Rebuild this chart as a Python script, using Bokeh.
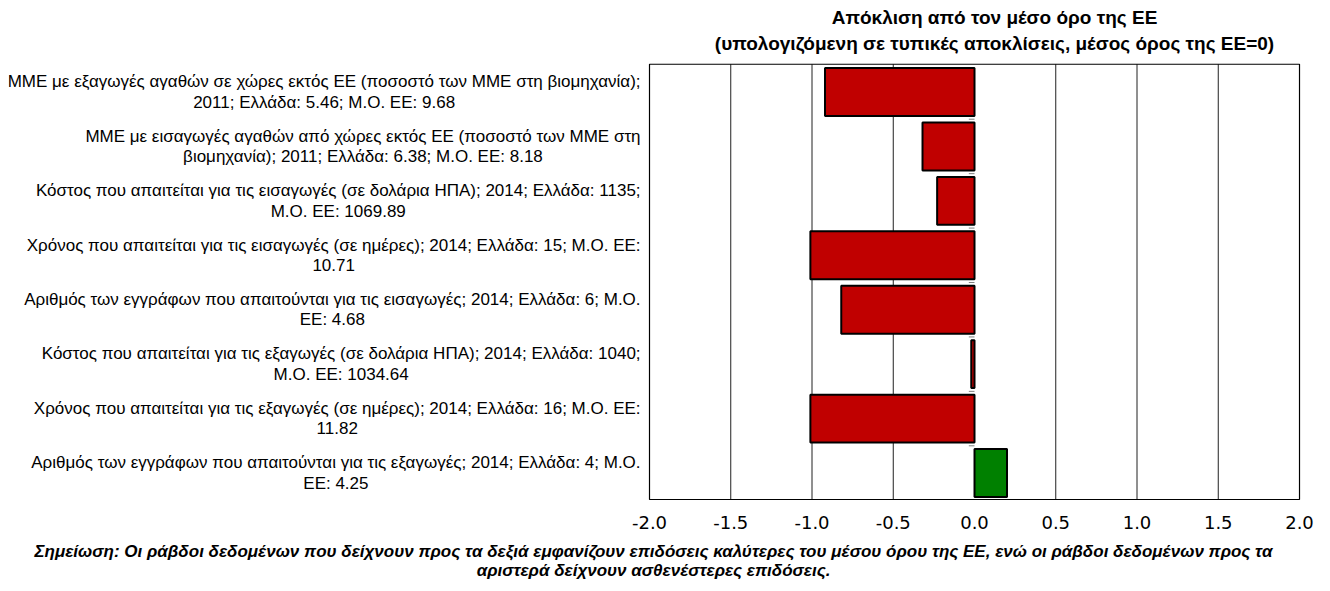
from bokeh.plotting import figure
from bokeh.layouts import column
from bokeh.models import Range1d, FixedTicker, PrintfTickFormatter
from bokeh.core.properties import value
from bokeh.embed import file_html
from bokeh.resources import INLINE

# ---------------- data ----------------
categories = [
    "ΜΜΕ με εξαγωγές αγαθών σε χώρες εκτός ΕΕ (ποσοστό των ΜΜΕ στη βιομηχανία);\n2011; Ελλάδα: 5.46; Μ.Ο. ΕΕ: 9.68",
    "ΜΜΕ με εισαγωγές αγαθών από χώρες εκτός ΕΕ (ποσοστό των ΜΜΕ στη\nβιομηχανία); 2011; Ελλάδα: 6.38; Μ.Ο. ΕΕ: 8.18",
    "Κόστος που απαιτείται για τις εισαγωγές (σε δολάρια ΗΠΑ); 2014; Ελλάδα: 1135;\nΜ.Ο. ΕΕ: 1069.89",
    "Χρόνος που απαιτείται για τις εισαγωγές (σε ημέρες); 2014; Ελλάδα: 15; Μ.Ο. ΕΕ:\n10.71",
    "Αριθμός των εγγράφων που απαιτούνται για τις εισαγωγές; 2014; Ελλάδα: 6; Μ.Ο.\nΕΕ: 4.68",
    "Κόστος που απαιτείται για τις εξαγωγές (σε δολάρια ΗΠΑ); 2014; Ελλάδα: 1040;\nΜ.Ο. ΕΕ: 1034.64",
    "Χρόνος που απαιτείται για τις εξαγωγές (σε ημέρες); 2014; Ελλάδα: 16; Μ.Ο. ΕΕ:\n11.82",
    "Αριθμός των εγγράφων που απαιτούνται για τις εξαγωγές; 2014; Ελλάδα: 4; Μ.Ο.\nΕΕ: 4.25",
]
deviation = [-0.92, -0.32, -0.23, -1.01, -0.82, -0.02, -1.01, 0.20]
x_ticks = [-2.0, -1.5, -1.0, -0.5, 0.0, 0.5, 1.0, 1.5, 2.0]
grid_ticks = [-1.5, -1.0, -0.5, 0.5, 1.0, 1.5]
title_lines = ["Απόκλιση από τον μέσο όρο της ΕΕ",
               "(υπολογιζόμενη σε τυπικές αποκλίσεις, μέσος όρος της ΕΕ=0)"]
note_lines = ["Σημείωση: Οι ράβδοι δεδομένων που δείχνουν προς τα δεξιά εμφανίζουν επιδόσεις καλύτερες του μέσου όρου της ΕΕ, ενώ οι ράβδοι δεδομένων προς τα",
              "αριστερά δείχνουν ασθενέστερες επιδόσεις."]

# ---------------- layout constants ----------------
FONT = value("Liberation Sans")
ypos = list(range(len(categories)))
colors = ["#C00000" if v < 0 else "#008000" for v in deviation]
BOX_TOP, BOX_BOTTOM = -0.51, 7.487
TOTAL_W = 1322

p = figure(frame_width=1298, frame_height=492,
           min_border_left=8, min_border_right=16, min_border_top=8, min_border_bottom=38,
           x_range=Range1d(-5.9446, 2.043), y_range=Range1d(7.505, -1.534),
           output_backend="svg", toolbar_location=None)
p.outline_line_color = None
p.xgrid.visible = False
p.ygrid.visible = False
p.yaxis.visible = False
p.background_fill_color = "white"
p.border_fill_color = "white"

# x axis (tick labels only)
ax = p.xaxis[0]
ax.ticker = FixedTicker(ticks=x_ticks)
ax.formatter = PrintfTickFormatter(format="%.1f")
ax.axis_line_color = None
ax.major_tick_line_color = None
ax.minor_tick_line_color = None
ax.major_tick_out = 0
ax.major_tick_in = 0
ax.major_label_standoff = 15
ax.major_label_text_font = "DejaVu Sans"
ax.major_label_text_font_size = "18px"
ax.major_label_text_color = "black"

# grid lines inside the box
p.segment(x0=grid_ticks, x1=grid_ticks, y0=[BOX_TOP] * len(grid_ticks), y1=[BOX_BOTTOM] * len(grid_ticks),
          line_color="#202020", line_width=1)

# small category ticks at zero
bounds = [i + 0.5 for i in ypos[:-1]]
p.segment(x0=[-0.035] * len(bounds), x1=[0] * len(bounds), y0=bounds, y1=bounds,
          line_color="#808080", line_width=1)

# bars
p.hbar(y=ypos, left=0, right=deviation, height=0.88, fill_color=colors,
       line_color="black", line_width=2)

# plot box
p.quad(left=[-2], right=[2], top=[BOX_TOP], bottom=[BOX_BOTTOM], fill_color=None,
       line_color="black", line_width=1.2)

# category labels
p.text(x=[-2.055] * len(categories), y=ypos, text=categories, anchor="center_right",
       text_align="center", text_baseline="middle", text_font=FONT,
       text_font_size="17px", text_line_height=1.08, text_color="black")

# chart title
p.text(x=[0.123], y=[-1.13], text=["\n".join(title_lines)], anchor="center",
       text_align="center", text_baseline="middle", text_font=FONT,
       text_font_size="19px", text_font_style="bold", text_line_height=1.22, text_color="black")

# note strip below the chart
n = figure(width=TOTAL_W, height=45, min_border=0,
           x_range=Range1d(0, TOTAL_W), y_range=Range1d(45, 0),
           output_backend="svg", toolbar_location=None)
n.axis.visible = False
n.grid.visible = False
n.outline_line_color = None
n.background_fill_color = "white"
n.border_fill_color = "white"
n.text(x=[657, 657], y=[13, 32], text=note_lines, text_align="center", text_baseline="middle",
       text_font=FONT, text_font_size="17px", text_font_style="bold italic", text_color="black")

layout = column(p, n, spacing=0)
open("out.html", "w").write(file_html(layout, INLINE))
